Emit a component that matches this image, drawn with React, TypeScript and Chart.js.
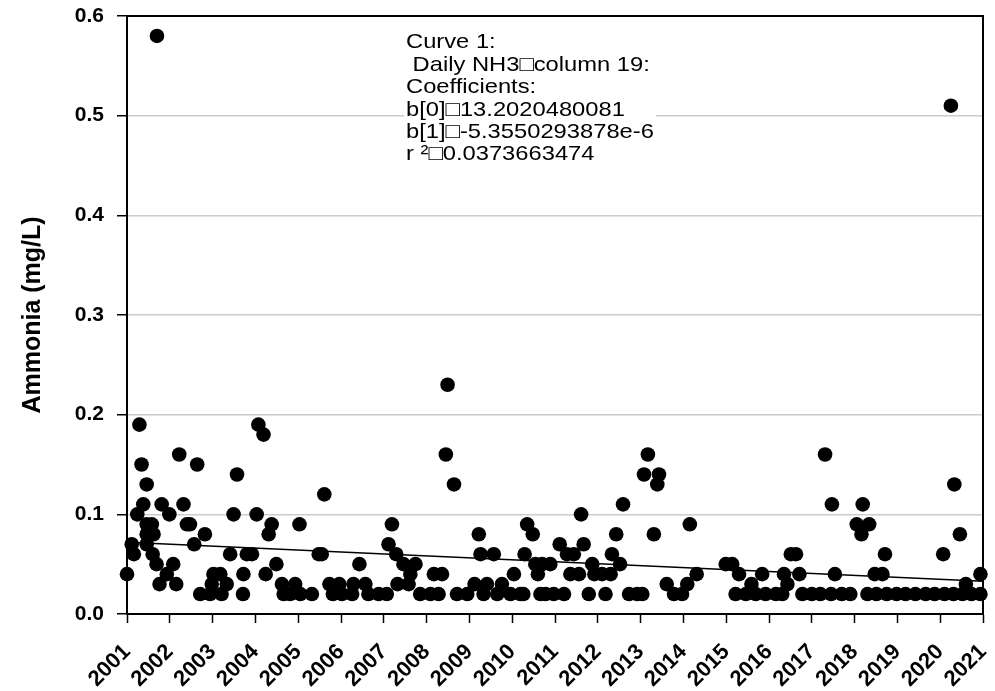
import React, { useEffect, useRef } from "react";
import { Chart, registerables } from "chart.js";

Chart.register(...registerables);

// Sampling dates (decimal years) grouped by measured ammonia value (mg/L)
const yrs058 = [2001.7];
const yrs051 = [2020.25];
const yrs023 = [2008.49];
const yrs019 = [2001.29, 2004.07];
const yrs018 = [2004.19];
const yrs016 = [2002.22, 2008.45, 2013.17, 2017.31];
const yrs015 = [2001.34, 2002.64];
const yrs014 = [2003.57, 2013.08, 2013.43];
const yrs013 = [2001.46, 2008.64, 2013.39, 2020.33];
const yrs012 = [2005.61];
const yrs011 = [2001.38, 2001.81, 2002.32, 2012.59, 2017.47, 2018.19];
const yrs010 = [2001.24, 2001.99, 2003.49, 2004.03, 2011.61];
const yrs009 = [2001.46, 2001.58, 2002.4, 2002.47, 2004.38, 2005.03, 2007.19, 2010.35, 2014.15, 2018.05, 2018.34];
const yrs008 = [2001.46, 2001.62, 2002.82, 2004.31, 2009.22, 2010.48, 2012.43, 2013.31, 2018.16, 2020.46];
const yrs007 = [2001.11, 2001.46, 2002.57, 2007.11, 2011.11, 2011.67];
const yrs006 = [2001.16, 2001.6, 2003.41, 2003.8, 2003.92, 2005.48, 2005.55, 2007.29, 2009.26, 2009.57, 2010.29, 2011.28, 2011.44, 2012.33, 2016.51, 2016.63, 2018.71, 2020.07];
const yrs005 = [2001.69, 2002.08, 2004.49, 2006.43, 2007.46, 2007.74, 2010.54, 2010.7, 2010.89, 2011.87, 2012.52, 2014.99, 2015.14];
const yrs004 = [2001.0, 2001.93, 2003.02, 2003.18, 2003.72, 2004.24, 2007.62, 2008.17, 2008.36, 2010.04, 2010.6, 2011.36, 2011.56, 2011.92, 2012.1, 2012.3, 2014.31, 2015.3, 2015.84, 2016.35, 2016.71, 2017.54, 2018.47, 2018.65, 2020.94];
const yrs003 = [2001.76, 2002.15, 2002.98, 2003.33, 2004.62, 2004.93, 2005.73, 2005.96, 2006.29, 2006.57, 2007.32, 2007.58, 2009.12, 2009.41, 2009.76, 2013.61, 2014.09, 2015.59, 2016.43, 2020.6];
const yrs002 = [2002.71, 2002.94, 2003.21, 2003.71, 2004.66, 2004.81, 2005.05, 2005.32, 2005.81, 2006.02, 2006.26, 2006.64, 2006.88, 2007.07, 2007.85, 2008.09, 2008.28, 2008.71, 2008.95, 2009.33, 2009.65, 2009.96, 2010.19, 2010.26, 2010.66, 2010.78, 2010.97, 2011.21, 2011.79, 2012.18, 2012.73, 2012.92, 2013.04, 2013.78, 2013.97, 2015.22, 2015.46, 2015.69, 2015.92, 2016.16, 2016.31, 2016.78, 2017.0, 2017.2, 2017.45, 2017.7, 2017.9, 2018.3, 2018.51, 2018.75, 2018.98, 2019.19, 2019.42, 2019.66, 2019.87, 2020.1, 2020.31, 2020.52, 2020.73, 2020.94];

const levels = [0.58, 0.51, 0.23, 0.19, 0.18, 0.16, 0.15, 0.14, 0.13, 0.12, 0.11, 0.1, 0.09, 0.08, 0.07, 0.06, 0.05, 0.04, 0.03, 0.02];
const yearGroups = [yrs058, yrs051, yrs023, yrs019, yrs018, yrs016, yrs015, yrs014, yrs013, yrs012, yrs011, yrs010, yrs009, yrs008, yrs007, yrs006, yrs005, yrs004, yrs003, yrs002];

// Regression line end points (from the fitted coefficients)
const trendYears = [2001, 2021];
const trendValues = [0.072, 0.0329];

const yTicks = [0, 0.1, 0.2, 0.3, 0.4, 0.5, 0.6];
const xMin = 2001;
const xMax = 2021;

const annotationLines = [
  "Curve 1:",
  " Daily NH3\u25A1column 19:",
  "Coefficients:",
  "b[0]\u25A113.2020480081",
  "b[1]\u25A1-5.3550293878e-6",
  "r \u00B2\u25A10.0373663474",
];
const yTitle = "Ammonia (mg/L)";

const FONT = "'Liberation Sans', Arial, Helvetica, sans-serif";

export default function App() {
  const ref = useRef<HTMLCanvasElement | null>(null);

  useEffect(() => {
    const canvas = ref.current;
    if (!canvas) return;
    const points: { x: number; y: number }[] = [];
    yearGroups.forEach((g, i) => g.forEach((x) => points.push({ x, y: levels[i] })));
    const trend = trendYears.map((x, i) => ({ x, y: trendValues[i] }));

    const framePlugin = {
      id: "frame",
      afterDraw(chart: any) {
        const { ctx, chartArea } = chart;
        const { left, right, top, bottom } = chartArea;
        ctx.save();
        ctx.strokeStyle = "#000";
        ctx.lineWidth = 2;
        ctx.beginPath();
        ctx.moveTo(left, top);
        ctx.lineTo(right, top);
        ctx.lineTo(right, bottom);
        ctx.stroke();

        // annotation block
        const fs = 21;
        const lh = 22.4;
        const sx = 1.13;
        const x0 = 406;
        const base0 = 48.3;
        ctx.font = `${fs}px ${FONT}`;
        let maxW = 0;
        annotationLines.forEach((t) => (maxW = Math.max(maxW, ctx.measureText(t).width * sx)));
        ctx.fillStyle = "#fff";
        ctx.fillRect(x0 - 2, base0 - 18, maxW + 4, lh * annotationLines.length + 4);
        ctx.fillStyle = "#000";
        ctx.textBaseline = "alphabetic";
        ctx.textAlign = "left";
        annotationLines.forEach((t, i) => {
          ctx.save();
          ctx.translate(x0, base0 + i * lh);
          ctx.scale(sx, 1);
          ctx.fillText(t, 0, 0);
          ctx.restore();
        });

        // y axis title
        ctx.font = `bold 25px ${FONT}`;
        ctx.translate(33, (top + bottom) / 2);
        ctx.rotate(-Math.PI / 2);
        ctx.textAlign = "center";
        ctx.textBaseline = "middle";
        ctx.fillText(yTitle, 0, 0);
        ctx.restore();
      },
    };

    const chart = new Chart(canvas, {
      type: "scatter",
      data: {
        datasets: [
          {
            type: "scatter",
            data: points,
            pointRadius: 7.3,
            pointHoverRadius: 7.3,
            pointBackgroundColor: "#000",
            pointBorderWidth: 0,
            clip: false,
          } as any,
          {
            type: "line",
            data: trend,
            borderColor: "#000",
            borderWidth: 1.5,
            pointRadius: 0,
            fill: false,
          } as any,
        ],
      },
      options: {
        animation: false,
        responsive: false,
        devicePixelRatio: 1,
        events: [],
        layout: { padding: { top: 16, right: 12, left: 0, bottom: 0 } },
        plugins: { legend: { display: false }, tooltip: { enabled: false } },
        scales: {
          x: {
            type: "linear",
            min: xMin,
            max: xMax,
            afterFit: (s: any) => {
              s.height = 77;
              s.paddingLeft = 0;
              s.paddingRight = 0;
            },
            afterBuildTicks: (s: any) => {
              const t = [];
              for (let y = xMin; y <= xMax; y++) t.push({ value: y });
              s.ticks = t;
            },
            ticks: {
              autoSkip: false,
              maxRotation: 45,
              minRotation: 45,
              padding: 16,
              color: "#000",
              font: { family: FONT, size: 22, weight: "bold" },
              callback: (v: any) => String(v),
            },
            grid: {
              drawOnChartArea: false,
              drawTicks: true,
              tickLength: 9,
              tickColor: "#000",
              tickWidth: 1.5,
            },
            border: { display: true, color: "#000", width: 2 },
          },
          y: {
            type: "linear",
            min: 0,
            max: 0.6,
            afterFit: (s: any) => {
              s.width = 127;
              s.paddingTop = 0;
              s.paddingBottom = 0;
            },
            afterBuildTicks: (s: any) => {
              s.ticks = yTicks.map((v) => ({ value: v }));
            },
            ticks: {
              padding: 13,
              color: "#000",
              font: { family: FONT, size: 21, weight: "bold" },
              callback: (v: any) => Number(v).toFixed(1),
            },
            grid: {
              color: (c: any) => (c.tick && (c.tick.value === 0 || c.tick.value === 0.6) ? "rgba(0,0,0,0)" : "#cccccc"),
              lineWidth: 1.5,
              drawTicks: true,
              tickLength: 10,
              tickColor: "#000",
              tickWidth: 1.5,
            },
            border: { display: true, color: "#000", width: 2 },
          },
        },
      },
      plugins: [framePlugin],
    });
    return () => chart.destroy();
  }, []);

  return (
    <div style={{ position: "fixed", left: 0, top: 0, width: 995, height: 691, background: "#fff" }}>
      <canvas ref={ref} width={995} height={691} style={{ width: 995, height: 691, display: "block" }} />
    </div>
  );
}
